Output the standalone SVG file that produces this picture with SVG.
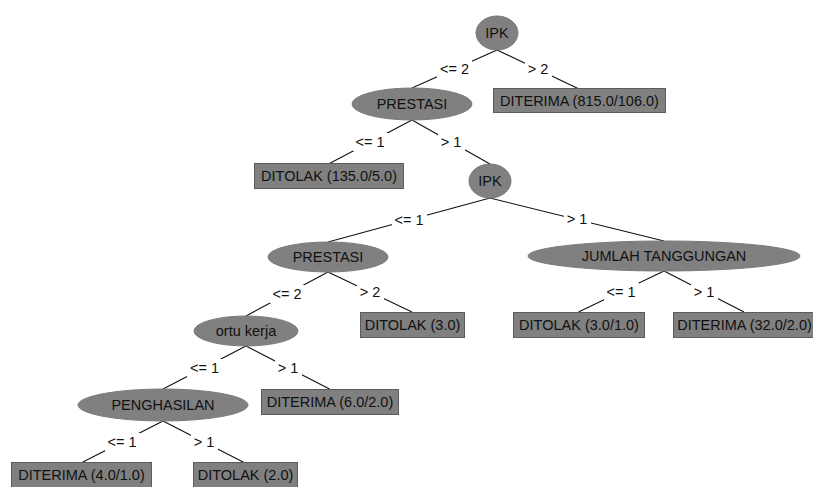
<svg xmlns="http://www.w3.org/2000/svg" width="813" height="487" viewBox="0 0 813 487">
<style>
text{font-family:"Liberation Sans",Arial,sans-serif;font-size:14.5px;fill:#111;text-anchor:middle}
.el{fill:#808080;stroke:#7a7a7a;stroke-width:1}
.bx{fill:#808080;stroke:#5c5c5c;stroke-width:1}
.ln{stroke:#111;stroke-width:1.1;fill:none}
.lb{fill:#fff}
</style>
<rect width="813" height="487" fill="#fff"/>
<g id="connectors">
<line class="ln" x1="497" y1="50" x2="412" y2="88"/>
<line class="ln" x1="497" y1="50" x2="579" y2="89"/>
<line class="ln" x1="412" y1="120" x2="328.5" y2="164"/>
<line class="ln" x1="412" y1="120" x2="490" y2="164"/>
<line class="ln" x1="490" y1="198" x2="328" y2="242"/>
<line class="ln" x1="490" y1="198" x2="664" y2="241"/>
<line class="ln" x1="328" y1="272" x2="246" y2="316"/>
<line class="ln" x1="328" y1="272" x2="412" y2="312"/>
<line class="ln" x1="664" y1="271" x2="578.5" y2="312"/>
<line class="ln" x1="664" y1="271" x2="744" y2="312"/>
<line class="ln" x1="246" y1="346" x2="163" y2="389"/>
<line class="ln" x1="246" y1="346" x2="329.5" y2="389"/>
<line class="ln" x1="163" y1="421" x2="81" y2="463"/>
<line class="ln" x1="163" y1="421" x2="245" y2="463"/>
<rect class="lb" x="437" y="60" width="35" height="18"/><text x="454.5" y="74">&lt;= 2</text>
<rect class="lb" x="525" y="60" width="27" height="18"/><text x="538" y="74">&gt; 2</text>
<rect class="lb" x="353" y="133" width="35" height="18"/><text x="370" y="147">&lt;= 1</text>
<rect class="lb" x="438" y="133" width="27" height="18"/><text x="451" y="147">&gt; 1</text>
<rect class="lb" x="392" y="211" width="35" height="18"/><text x="409" y="225">&lt;= 1</text>
<rect class="lb" x="564" y="210" width="27" height="18"/><text x="577" y="224">&gt; 1</text>
<rect class="lb" x="270" y="285" width="35" height="18"/><text x="287" y="299">&lt;= 2</text>
<rect class="lb" x="357" y="283" width="27" height="18"/><text x="370" y="297">&gt; 2</text>
<rect class="lb" x="604" y="283" width="35" height="18"/><text x="621" y="297">&lt;= 1</text>
<rect class="lb" x="691" y="283" width="27" height="18"/><text x="704" y="297">&gt; 1</text>
<rect class="lb" x="187" y="359" width="35" height="18"/><text x="204.5" y="373">&lt;= 1</text>
<rect class="lb" x="275" y="359" width="27" height="18"/><text x="288" y="373">&gt; 1</text>
<rect class="lb" x="105" y="433" width="35" height="18"/><text x="122" y="447">&lt;= 1</text>
<rect class="lb" x="191" y="433" width="27" height="18"/><text x="204" y="447">&gt; 1</text>
</g>
<g id="n0"><ellipse class="el" cx="497" cy="33" rx="21" ry="17"/><text x="497" y="38">IPK</text></g>
<g id="n1"><ellipse class="el" cx="412" cy="104" rx="60" ry="16"/><text x="412" y="109">PRESTASI</text></g>
<g id="n2"><rect class="bx" x="493.5" y="88.5" width="172" height="24"/><text x="579.5" y="106">DITERIMA (815.0/106.0)</text></g>
<g id="n3"><rect class="bx" x="254.5" y="163.5" width="149" height="25"/><text x="329" y="181">DITOLAK (135.0/5.0)</text></g>
<g id="n4"><ellipse class="el" cx="490" cy="181" rx="21" ry="17"/><text x="490" y="186">IPK</text></g>
<g id="n5"><ellipse class="el" cx="328" cy="257" rx="60" ry="15"/><text x="328" y="262">PRESTASI</text></g>
<g id="n6"><ellipse class="el" cx="664" cy="256" rx="136" ry="15"/><text x="664" y="261">JUMLAH TANGGUNGAN</text></g>
<g id="n7"><ellipse class="el" cx="246" cy="331" rx="52" ry="15"/><text x="246" y="336">ortu kerja</text></g>
<g id="n8"><rect class="bx" x="360.5" y="312.5" width="104" height="25"/><text x="412.5" y="330">DITOLAK (3.0)</text></g>
<g id="n9"><rect class="bx" x="513.5" y="312.5" width="131" height="25"/><text x="579" y="330">DITOLAK (3.0/1.0)</text></g>
<g id="n10"><rect class="bx" x="673.5" y="312.5" width="142" height="25"/><text x="744.5" y="330">DITERIMA (32.0/2.0)</text></g>
<g id="n11"><ellipse class="el" cx="163" cy="405" rx="85" ry="16"/><text x="163" y="410">PENGHASILAN</text></g>
<g id="n12"><rect class="bx" x="261.5" y="389.5" width="137" height="25"/><text x="330" y="407">DITERIMA (6.0/2.0)</text></g>
<g id="n13"><rect class="bx" x="11.5" y="462.5" width="140" height="26"/><text x="81.5" y="480">DITERIMA (4.0/1.0)</text></g>
<g id="n14"><rect class="bx" x="193.5" y="462.5" width="104" height="26"/><text x="245.5" y="480">DITOLAK (2.0)</text></g>
</svg>
